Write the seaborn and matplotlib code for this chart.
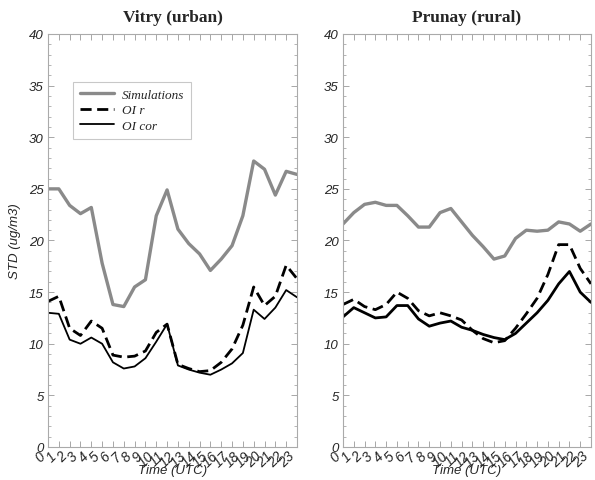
import matplotlib
matplotlib.use("Agg")
import matplotlib.pyplot as plt
from matplotlib.ticker import MultipleLocator
from matplotlib.transforms import ScaledTranslation
import seaborn as sns
import pandas as pd
import numpy as np

hours = list(range(24))

vitry_sim = [25.0, 25.0, 23.4, 22.6, 23.2, 17.8, 13.8, 13.6, 15.5, 16.2, 22.4, 24.9,
             21.1, 19.7, 18.7, 17.1, 18.2, 19.5, 22.4, 27.7, 26.9, 24.4, 26.7, 26.4]
vitry_oir = [14.1, 14.6, 11.5, 10.8, 12.2, 11.5, 8.9, 8.7, 8.8, 9.3, 11.1, 11.9,
             8.0, 7.6, 7.3, 7.4, 8.2, 9.5, 11.8, 15.5, 13.7, 14.6, 17.6, 16.3]
vitry_oicor = [13.0, 12.9, 10.4, 10.0, 10.6, 10.0, 8.2, 7.6, 7.8, 8.6, 10.2, 11.9,
               7.9, 7.5, 7.2, 7.0, 7.5, 8.1, 9.1, 13.3, 12.4, 13.5, 15.2, 14.5]

prunay_sim = [21.6, 22.7, 23.5, 23.7, 23.4, 23.4, 22.4, 21.3, 21.3, 22.7, 23.1, 21.8,
              20.5, 19.4, 18.2, 18.5, 20.2, 21.0, 20.9, 21.0, 21.8, 21.6, 20.9, 21.6]
prunay_oir = [13.8, 14.3, 13.6, 13.3, 13.8, 15.0, 14.4, 13.2, 12.7, 13.0, 12.7, 12.3,
              11.3, 10.5, 10.1, 10.3, 11.5, 12.9, 14.4, 16.7, 19.6, 19.6, 17.3, 15.8]
prunay_oicor = [12.6, 13.5, 13.0, 12.5, 12.6, 13.7, 13.7, 12.4, 11.7, 12.0, 12.2, 11.6,
                11.3, 10.9, 10.6, 10.4, 11.0, 12.0, 13.0, 14.2, 15.8, 17.0, 15.0, 14.0]

series_names = ["Simulations", "OI r", "OI cor"]
titles = ["Vitry (urban)", "Prunay (rural)"]
y_ticks = [0, 5, 10, 15, 20, 25, 30, 35, 40]

sns.set_theme(style="white")
plt.rcParams["font.family"] = ["Liberation Sans", "DejaVu Sans"]

fig = plt.figure(figsize=(5.95, 4.81), dpi=100)
ax1 = fig.add_axes([48/595, 1-448/481, 249/595, 413/481])
ax2 = fig.add_axes([343/595, 1-448/481, 248/595, 413/481])

panels = [
    (ax1, [vitry_sim, vitry_oir, vitry_oicor], 1.3),
    (ax2, [prunay_sim, prunay_oir, prunay_oicor], 2.0),
]

shift = ScaledTranslation(3/100, 0, fig.dpi_scale_trans)

for i, (ax, data, cor_lw) in enumerate(panels):
    df = pd.DataFrame({"hour": hours, "Simulations": data[0], "OI r": data[1], "OI cor": data[2]})
    sns.lineplot(data=df, x="hour", y="Simulations", ax=ax, color="#8a8a8a", lw=2.4,
                 label="Simulations" if i == 0 else None)
    sns.lineplot(data=df, x="hour", y="OI r", ax=ax, color="black", lw=2.0,
                 linestyle=(0, (4.0, 2.0)), label="OI r" if i == 0 else None)
    sns.lineplot(data=df, x="hour", y="OI cor", ax=ax, color="black", lw=cor_lw,
                 label="OI cor" if i == 0 else None)
    ax.set_xlim(0, 23)
    ax.set_ylim(0, 40)
    ax.set_xticks(hours)
    ax.set_xticklabels([str(h) for h in hours], rotation=45, ha="right", va="top",
                       fontstyle="italic", fontsize=10)
    for lab in ax.get_xticklabels():
        lab.set_transform(lab.get_transform() + shift)
    ax.set_yticks(y_ticks)
    ax.set_yticklabels([str(t) for t in y_ticks], fontstyle="italic", fontsize=9.5)
    ax.yaxis.set_minor_locator(MultipleLocator(1))
    ax.tick_params(axis="both", which="both", direction="in", top=True, right=True,
                   bottom=True, left=True, color="#999999")
    ax.tick_params(axis="both", which="major", length=4, width=0.6, pad=3)
    ax.tick_params(axis="y", which="minor", length=2.5, width=0.5)
    ax.tick_params(axis="x", which="major", pad=1)
    for sp in ax.spines.values():
        sp.set_color("#aaaaaa")
        sp.set_linewidth(0.8)
    ax.set_xlabel("Time (UTC)", fontstyle="italic", fontsize=9.5, labelpad=-4)
    ax.set_ylabel("")
    ax.set_title(titles[i], family=["Liberation Serif", "DejaVu Serif"], fontweight="bold",
                 fontsize=12.5, pad=9)

ax1.set_ylabel("STD (ug/m3)", fontstyle="italic", fontsize=9.5, labelpad=6)

leg = ax1.legend(loc="upper left", bbox_to_anchor=(25/249, (448-83)/413), frameon=True,
                 borderaxespad=0, fancybox=False, edgecolor="#bbbbbb", handlelength=2.6,
                 handletextpad=0.6, borderpad=0.5, labelspacing=0.25,
                 prop={"family": ["Liberation Serif", "DejaVu Serif"], "style": "italic", "size": 9.5})
leg.get_frame().set_linewidth(0.8)

fig.savefig("out.png", dpi=100)
